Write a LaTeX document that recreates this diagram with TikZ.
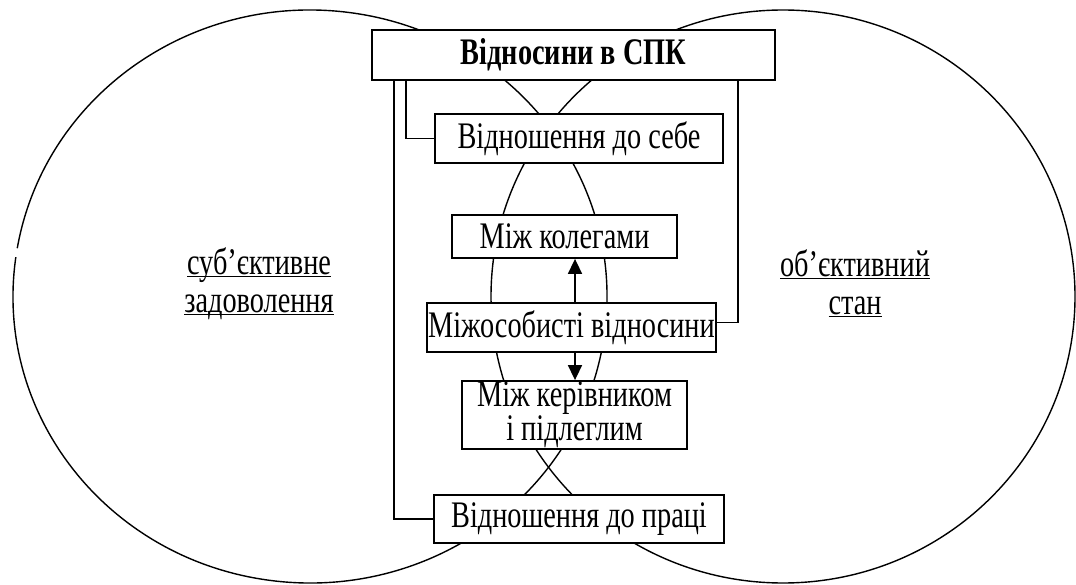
\documentclass[tikz,border=0pt]{standalone}
\usepackage{fontspec}
\setmainfont{Liberation Serif}[FakeStretch=0.755]
\usetikzlibrary{arrows.meta}
\newcommand\ulword[1]{\underline{\raisebox{0pt}[\height][0pt]{#1}}}
\begin{document}
\begin{tikzpicture}[x=1pt,y=-1pt,
  box/.style={draw, line width=1.8pt, fill=white, inner sep=0pt, align=center, font=\fontsize{37.5}{32}\selectfont},
  conn/.style={line width=1.6pt},
  ell/.style={line width=1.4pt},
  arr/.style={line width=1.6pt, -{Triangle[width=14pt,length=15pt]}},
  lbl/.style={align=center, inner sep=0pt, font=\fontsize{37.5}{38}\selectfont}]
\useasboundingbox (0,0) rectangle (1076,585);
% ellipses
\draw[ell] (310,296.5) ++(172.1:297pt and 286.5pt) arc[start angle=172.1, end angle=530.3, x radius=297pt, y radius=286.5pt];
\draw[ell] (783,296.5) ellipse [x radius=292pt, y radius=286.5pt];
% boxes
\node[box, minimum width=403pt, minimum height=50pt, font=\fontsize{37.5}{32}\selectfont\bfseries] (top) at (573.5,55) {Відносини в СПК};
\node[box, minimum width=288pt, minimum height=49pt] (self) at (579,138.5) {Відношення до себе};
\node[box, minimum width=225pt, minimum height=43pt] (coll) at (564.5,236.5) {Між колегами};
\node[box, minimum width=289pt, minimum height=49pt] (inter) at (571.5,327.5) {Міжособисті відносини};
\node[box, minimum width=225pt, minimum height=68pt] (boss) at (574.5,415) {Між керівником\\і підлеглим};
\node[box, minimum width=290pt, minimum height=48pt] (work) at (579,519) {Відношення до праці};
% connectors
\coordinate (t1) at ([xshift=35pt]top.south west);
\coordinate (t2) at ([xshift=23pt]top.south west);
\coordinate (t3) at ([xshift=-38pt]top.south east);
\coordinate (i3) at ([yshift=5pt]inter.east);
\draw[conn] (t1) |- (self.west);
\draw[conn] (t2) |- (work.west);
\draw[conn] (t3) |- (i3);
% arrows
\coordinate (a1) at ([xshift=3.5pt]inter.north);
\coordinate (a2) at ([xshift=3.5pt]inter.south);
\draw[arr] (a1) -- (a1 |- coll.south);
\draw[arr] (a2) -- (a2 |- boss.north);
% labels
\node[lbl] (subj) at (259,281) {\ulword{суб’єктивне}\\\ulword{задоволення}};
\node[lbl] (obj) at (855,283) {\ulword{об’єктивний}\\\ulword{стан}};
\end{tikzpicture}
\end{document}
